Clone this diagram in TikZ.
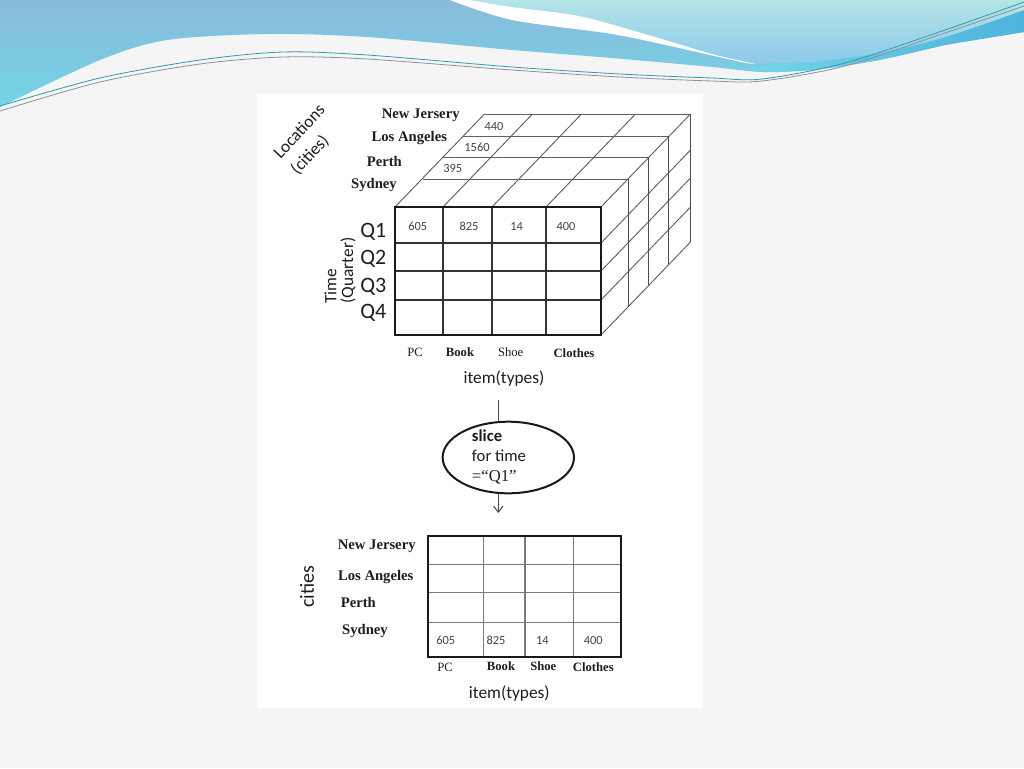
\documentclass[tikz,border=0pt]{standalone}
\usepackage{fontspec}
\setmainfont{Liberation Serif}
\newfontfamily\calib{Carlito}
\usetikzlibrary{shapes.geometric, arrows.meta}

\definecolor{slidebg}{HTML}{F5F5F5}
\definecolor{waveA}{HTML}{8ABADB}
\definecolor{waveB}{HTML}{72D5E6}
\definecolor{waveC}{HTML}{4FB2DC}
\definecolor{waveD}{HTML}{B4E4E6}
\definecolor{waveE}{HTML}{8CC9EC}
\definecolor{swirlteal}{HTML}{2F9AAA}
\definecolor{swirlgray}{HTML}{8A9296}
\definecolor{gridgray}{HTML}{606060}
\definecolor{tablegray}{HTML}{7A7A7A}
\definecolor{numgray}{HTML}{444444}
\definecolor{inkgray}{HTML}{1E1E1E}

\tikzset{
  citylab/.style={font=\fontsize{11}{13}\selectfont\bfseries, text=inkgray, inner sep=0.75pt},
  itemlab/.style={font=\fontsize{9.5}{11}\selectfont, text=inkgray, inner sep=0.75pt},
  itemlabb/.style={font=\fontsize{9.5}{11}\selectfont\bfseries, text=inkgray, inner sep=0.75pt},
  celltxt/.style={font=\calib\fontsize{9.3}{10}\selectfont, text=numgray, inner sep=0.75pt},
  axislab/.style={font=\calib\fontsize{13}{15}\selectfont, text=inkgray, inner sep=0.75pt},
  quartlab/.style={font=\calib\fontsize{16.5}{18}\selectfont, text=inkgray, inner sep=0.75pt},
  gridthin/.style={draw=gridgray, line width=0.7pt},
  gridedge/.style={draw=gridgray!80!black, line width=0.9pt},
  frontinner/.style={draw=black!80, line width=0.9pt},
  tablegrid/.style={draw=tablegray, line width=1.1pt},
  frame/.style={draw=black!90, line width=1.7pt},
  connector/.style={draw=black!70, line width=0.8pt}
}

\begin{document}
\begin{tikzpicture}[x=0.75pt,y=0.75pt,yscale=-1,xscale=1]
\useasboundingbox (0,0) rectangle (1024,768);

%Slide background
\fill[slidebg] (0,0) rectangle (1024,768);

%Header waves
\shade[top color=waveA, bottom color=waveB] (0,0) -- (1024,0) -- plot[smooth] coordinates {(1024,32) (945,45) (879,60) (812,70) (762,72) (712,67) (612,58) (512,50) (367,37) (267,34) (167,40) (100,60) (0,107)} -- cycle;
\shade[left color=waveB, right color=waveC] plot[smooth] coordinates {(752,66) (812,62) (879,53) (945,37) (1024,10)} -- (1024,32) -- plot[smooth] coordinates {(945,45) (879,60) (812,70) (752,71)} -- cycle;
\shade[top color=waveD, bottom color=waveE] plot[smooth] coordinates {(470,0) (512,7) (579,16) (645,34) (712,54) (754,64)} -- plot[smooth] coordinates {(812,62) (879,53) (945,37) (1024,10)} -- (1024,0) -- cycle;
\fill[white] plot[smooth] coordinates {(470,0) (512,7) (579,16) (645,34) (712,54) (756,64)} -- plot[smooth] coordinates {(745,63) (679,48) (612,34) (512,20) (450,0)} -- cycle;
\draw[swirlteal, line width=0.6pt] plot[smooth] coordinates {(0,106) (100,78) (200,60) (283,52) (367,55) (512,67) (620,74) (712,78) (762,79) (845,63) (945,30) (1024,2)};
\draw[swirlgray, line width=0.6pt] plot[smooth] coordinates {(0,111) (100,82) (200,64) (283,57) (367,59) (512,70) (620,77) (712,81) (762,81) (845,66) (945,33) (1024,6)};

%Picture area
\fill[white] (257,94) rectangle (703,708);

%Shape: Cube, top face
\draw[gridthin] (422.5,179) -- (628.5,179) (442.5,157) -- (648.5,157) (462.5,136) -- (668.5,136) (484.5,114) -- (690.5,114);
\draw[gridthin] (395,207) -- (484.5,114) (443,207) -- (532.5,114) (492,207) -- (581.5,114) (546,207) -- (635.5,114) (601,207) -- (690.5,114);
%Shape: Cube, right face
\draw[gridthin] (601,243) -- (690.5,150) (601,271) -- (690.5,178) (601,300) -- (690.5,207) (601,335) -- (690.5,242);
\draw[gridedge] (628.5,179) -- (628.5,307) (648.5,157) -- (648.5,285) (668.5,136) -- (668.5,264) (690.5,114) -- (690.5,242);
%Shape: Cube, front face
\draw[frontinner] (443,207) -- (443,335) (492,207) -- (492,335) (546,207) -- (546,335);
\draw[frontinner] (395,243) -- (601,243) (395,271) -- (601,271) (395,300) -- (601,300);
\draw[frame] (395,207) rectangle (601,335);

% Text Node
\node (locAxis) at (308.3,140) [axislab, rotate=47, align=left, font=\calib\fontsize{13}{17.6}\selectfont] {Locations\\(cities)};
% Text Node
\node (cityNJ) at (420.7,115.7) [citylab] {New Jersery};
\node (cityLA) at (409.3,138.3) [citylab] {Los Angeles};
\node (cityPE) at (384.3,161) [citylab] {Perth};
\node (citySY) at (374,185) [citylab] {Sydney};
% Text Node
\node (valNJ) at (494,127) [celltxt] {440};
\node (valLA) at (477,147.7) [celltxt] {1560};
\node (valPE) at (452.7,169) [celltxt] {395};
% Text Node
\node (valPC) at (417.7,226.7) [celltxt] {605};
\node (valBook) at (469,226.7) [celltxt] {825};
\node (valShoe) at (516.7,226.7) [celltxt] {14};
\node (valCloth) at (566,226.7) [celltxt] {400};
% Text Node
\node (q1) at (373.3,231.7) [quartlab] {Q1};
\node (q2) at (373.3,259) [quartlab] {Q2};
\node (q3) at (373.3,286.7) [quartlab] {Q3};
\node (q4) at (373.3,313.3) [quartlab] {Q4};
\node (timeAxis) at (340,270.5) [axislab, rotate=90, align=left, font=\calib\fontsize{13}{12.5}\selectfont] {Time\\(Quarter)};
% Text Node
\node (itPC) at (415,352.3) [itemlab] {PC};
\node (itBook) at (460,352.3) [itemlabb] {Book};
\node (itShoe) at (510.7,351.7) [itemlab] {Shoe};
\node (itCloth) at (574,353.3) [itemlabb] {Clothes};
\node (itemsTop) at (504,379) [axislab] {item(types)};

%Shape: Ellipse
\node (slice) at (508.3,457.5) [ellipse, draw=black!90, line width=1.5pt, minimum width=98.5pt, minimum height=53.7pt] {};
\node (sliceTxt) at (471.7,457) [anchor=west, align=left, inner sep=0pt, text=inkgray, font=\calib\fontsize{12.5}{15}\selectfont] {\textbf{slice}\\for time\\{\rmfamily =``Q1''}};
\coordinate (cutFrom) at (498.3,400);
\coordinate (cutTo) at (498.3,513);
\draw[connector] (cutFrom) -- (cutFrom |- slice.north);
\draw[connector, -{Straight Barb[length=4.5pt,width=7pt]}] (cutFrom |- slice.south) -- (cutTo);

%Shape: Grid, slice result
\draw[tablegrid] (483.3,535.7) -- (483.3,657.3) (525,535.7) -- (525,657.3) (573.3,535.7) -- (573.3,657.3);
\draw[tablegrid] (428.3,564.3) -- (620.7,564.3) (428.3,592.7) -- (620.7,592.7) (428.3,622.3) -- (620.7,622.3);
\draw[frame] (428.3,535.7) rectangle (620.7,657.3);

% Text Node
\node (citiesAx) at (307,587) [axislab, rotate=90, font=\calib\fontsize{15}{17}\selectfont] {cities};
\node (rowNJ) at (376.7,546.7) [citylab] {New Jersery};
\node (rowLA) at (375.7,576.7) [citylab] {Los Angeles};
\node (rowPE) at (358.3,602.7) [citylab] {Perth};
\node (rowSY) at (365,630.7) [citylab] {Sydney};
% Text Node
\node (resPC) at (445.7,640.7) [celltxt] {605};
\node (resBook) at (496,640.7) [celltxt] {825};
\node (resShoe) at (542.3,640.7) [celltxt] {14};
\node (resCloth) at (593.3,640.7) [celltxt] {400};
% Text Node
\node (colPC) at (445,667.3) [itemlab] {PC};
\node (colBook) at (501,666) [itemlabb] {Book};
\node (colShoe) at (543.3,665.7) [itemlabb] {Shoe};
\node (colCloth) at (593.3,666.7) [itemlabb] {Clothes};
\node (itemsBot) at (509.3,693.3) [axislab] {item(types)};

\end{tikzpicture}
\end{document}
